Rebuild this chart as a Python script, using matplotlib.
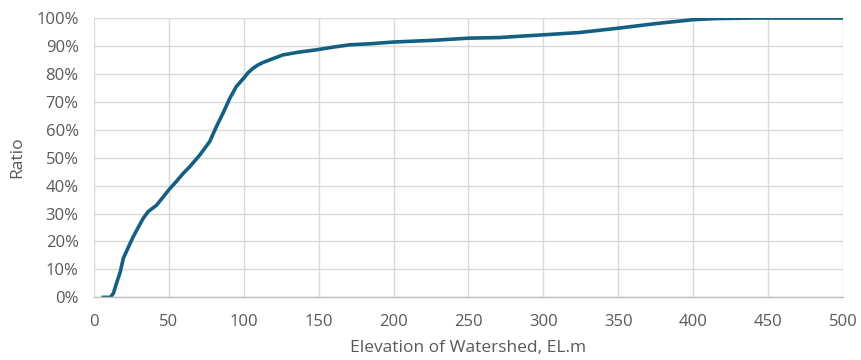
import matplotlib.pyplot as plt
from matplotlib.ticker import PercentFormatter, MultipleLocator

# cumulative ratio of watershed area vs elevation
elevation = [5, 11, 13, 15, 17.5, 19.6, 23, 26.2, 29.5, 32.9, 36.2, 41.8, 50, 55,
             59.6, 64, 70.7, 77.3, 81.8, 86.2, 90.7, 95.1, 100, 103, 106.2, 109.5,
             112.9, 117.3, 126.2, 137, 148.4, 160, 170.7, 185, 200, 226, 250.7, 270.7,
             285, 300.7, 324, 350.7, 375, 400, 415, 441.8, 470, 500]
ratio = [0.0, 0.0, 0.015, 0.05, 0.09, 0.14, 0.18, 0.217, 0.25, 0.283, 0.307, 0.33,
         0.385, 0.415, 0.444, 0.468, 0.51, 0.558, 0.612, 0.66, 0.713, 0.755, 0.785,
         0.805, 0.82, 0.832, 0.841, 0.85, 0.868, 0.878, 0.886, 0.896, 0.904, 0.908,
         0.914, 0.92, 0.928, 0.93, 0.935, 0.94, 0.948, 0.964, 0.98, 0.994, 0.998,
         1.0, 1.0, 1.0]

x_label = 'Elevation of Watershed, EL.m'
y_label = 'Ratio'

plt.rcParams['font.family'] = ['Open Sans', 'DejaVu Sans']

fig = plt.figure(figsize=(8.62, 3.6), dpi=100)
ax = fig.add_axes([0.109, 0.174, 0.869, 0.776])

ax.plot(elevation, ratio, color='#156082', linewidth=2.6, solid_capstyle='butt')

ax.set_xlim(0, 500)
ax.set_ylim(0, 1.0)
ax.xaxis.set_major_locator(MultipleLocator(50))
ax.yaxis.set_major_locator(MultipleLocator(0.1))
ax.yaxis.set_major_formatter(PercentFormatter(1.0, decimals=0))

ax.grid(True, color='#d9d9d9', linewidth=1.0)
ax.set_axisbelow(True)
for side in ['top', 'right', 'left']:
    ax.spines[side].set_visible(False)
ax.spines['bottom'].set_color('#bfbfbf')
ax.spines['bottom'].set_linewidth(1.0)

ax.tick_params(axis='both', length=0, labelsize=12, labelcolor='#595959')
ax.tick_params(axis='x', pad=12)
ax.tick_params(axis='y', pad=11)

ax.set_xlabel(x_label, fontsize=12.5, color='#595959', labelpad=7)
ax.set_ylabel(y_label, fontsize=12.5, color='#595959', labelpad=8)

plt.savefig('out.png', dpi=100)
